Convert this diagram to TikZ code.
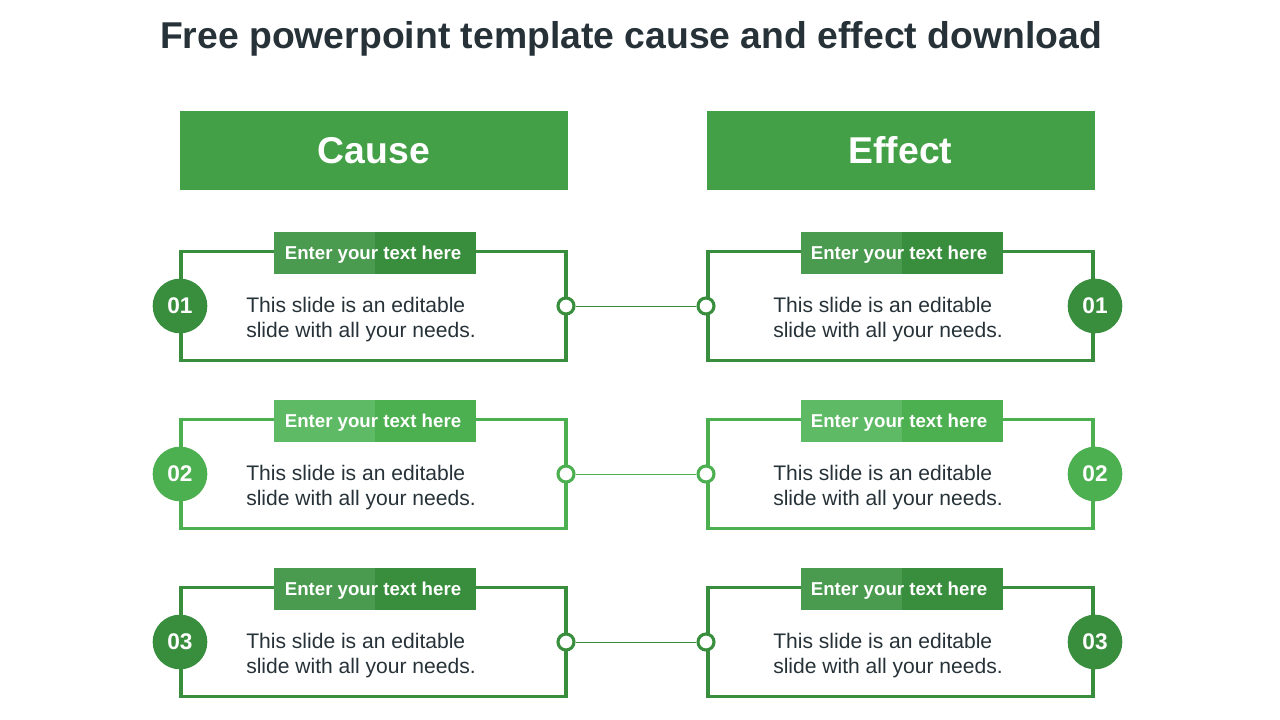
\documentclass[tikz,border=0pt]{standalone}
\usepackage{fontspec}
\setmainfont{Liberation Sans}
\definecolor{titlec}{HTML}{263238}
\definecolor{headc}{HTML}{43A047}
\definecolor{darkg}{HTML}{388E3C}
\definecolor{darkgl}{HTML}{4A9A4F}
\definecolor{lightg}{HTML}{4CAF50}
\definecolor{lightgl}{HTML}{5FBA65}
\begin{document}
\begin{tikzpicture}[x=0.75pt,y=-0.75pt,
  header/.style={fill=headc,draw=none,minimum width=291pt,minimum height=59.25pt,inner sep=0pt,text=white,font=\fontsize{28}{32}\selectfont\bfseries},
  frame/.style={draw=#1,line width=2.3pt,fill=white,minimum width=288.75pt,minimum height=81.75pt,inner sep=0pt},
  halfbox/.style={fill=#1,draw=none,minimum width=75.75pt,minimum height=31.5pt,inner sep=0pt},
  labeltext/.style={text=white,font=\fontsize{14}{16}\selectfont\bfseries,inner sep=0pt},
  numcirc/.style={circle,fill=#1,draw=none,minimum size=41pt,inner sep=0pt,text=white,font=\fontsize{17}{20}\selectfont\bfseries},
  dot/.style={circle,draw=#1,line width=2.3pt,fill=white,minimum size=12pt,inner sep=0pt},
  body/.style={align=left,anchor=west,inner sep=0pt,text=titlec,font=\fontsize{15.8}{18.75}\selectfont},
  link/.style={draw=#1,line width=0.6pt}
]
\useasboundingbox (0,0) rectangle (1280,720);
\node[text=titlec,font=\fontsize{28}{32}\selectfont\bfseries] (title) at (631,39) {Free powerpoint template cause and effect download};
\node[header] (cause) at (374,150.5) {Cause};
\node[header] (effect) at (900.5,150.5) {Effect};
\foreach \i/\y/\fc/\lc/\num in {1/306/darkg/darkgl/01, 2/474/lightg/lightgl/02, 3/642/darkg/darkgl/03}{
  % left
  \node[frame=\fc] (fl\i) at (373.5,\y) {};
  \node[halfbox=\lc] (lla\i) at (324.5,\y-53) {};
  \node[halfbox=\fc] (llb\i) at (425.5,\y-53) {};
  \node[labeltext] (llt\i) at (373,\y-51) {Enter your text here};
  \node[numcirc=\fc] (nl\i) at (180,\y) {\num};
  \node[body] (bl\i) at (246,\y+14) {This slide is an editable\\slide with all your needs.};
  \node[dot=\fc] (dl\i) at (566,\y) {};
  % right
  \node[frame=\fc] (fr\i) at (900.5,\y) {};
  \node[halfbox=\lc] (rla\i) at (851,\y-53) {};
  \node[halfbox=\fc] (rlb\i) at (952,\y-53) {};
  \node[labeltext] (rlt\i) at (899,\y-51) {Enter your text here};
  \node[numcirc=\fc] (nr\i) at (1095,\y) {\num};
  \node[body] (br\i) at (773,\y+14) {This slide is an editable\\slide with all your needs.};
  \node[dot=\fc] (dr\i) at (706,\y) {};
  \draw[link=\fc] (dl\i.east) -- (dr\i.west);
}
\end{tikzpicture}
\end{document}
